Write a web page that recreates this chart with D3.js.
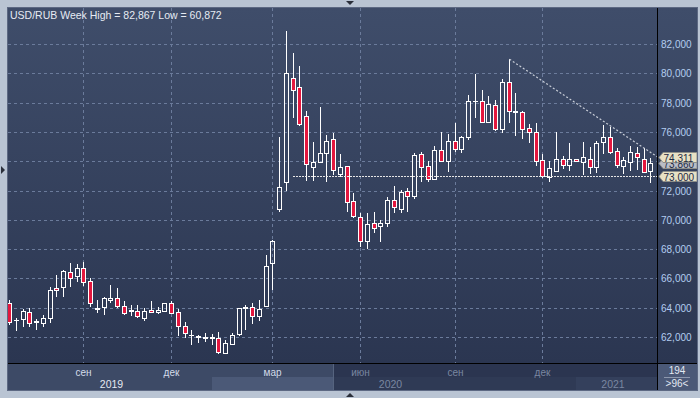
<html>
<head>
<script src="https://cdn.jsdelivr.net/npm/d3@7"></script>
<style>
  body { margin: 0; background: #b9c4d3; }
  svg text { font-family: "Liberation Sans", Arial, sans-serif; }
</style>
</head>
<body>
<svg id="chart" width="700" height="398"></svg>
<script>
// weekly USD/RUB candles, thousands-style values (72,000 == 72.0)
var open  = [64.34,63.14,63.21,63.69,63.00,62.94,63.32,65.32,65.39,66.42,66.19,66.69,65.82,63.94,64.03,64.53,
             64.64,64.14,63.78,63.77,63.32,63.84,63.69,63.77,64.30,63.69,62.77,62.12,62.00,61.96,61.96,61.95,
             60.94,61.50,62.18,64.01,64.07,63.45,64.14,67.03,70.72,72.60,79.66,79.04,77.06,73.58,73.92,74.54,
             75.49,73.15,73.65,71.26,70.17,68.57,69.76,69.60,69.76,71.35,70.72,71.97,71.65,74.49,73.67,72.78,
             74.76,74.03,75.38,74.85,75.63,78.09,78.13,76.70,77.82,76.18,79.39,77.36,77.36,76.25,75.99,74.06,
             72.92,73.31,74.13,73.72,74.15,73.97,74.13,73.62,75.33,75.67,74.70,73.67,73.97,74.54,74.17,73.33];
var high  = [64.55,63.28,63.89,63.96,63.21,63.48,65.39,66.23,66.60,67.03,66.98,67.14,66.01,64.53,64.70,65.55,
             65.32,64.46,64.18,64.18,63.96,64.46,64.03,64.34,64.46,63.91,63.04,62.48,62.14,62.25,62.20,62.36,
             61.80,62.29,64.00,64.18,64.30,64.53,67.60,68.60,75.67,82.867,81.41,80.50,77.43,75.33,77.70,75.79,
             75.90,74.49,73.70,71.85,70.44,70.44,70.51,69.99,71.58,72.31,72.03,72.15,74.54,74.65,74.01,75.04,
             76.01,75.88,76.61,75.72,78.52,79.95,78.86,78.45,78.18,79.61,80.96,78.63,77.45,76.54,76.63,74.49,
             74.01,76.01,74.35,75.22,74.18,75.29,74.99,75.40,76.47,76.35,74.88,74.31,75.04,74.99,74.88,74.20];
var low   = [62.85,62.43,62.70,62.70,62.48,62.70,62.98,64.75,64.71,65.39,65.78,65.50,64.07,63.62,63.50,64.34,
             63.96,63.50,63.45,63.32,63.11,63.62,63.55,63.69,63.55,62.09,61.95,61.45,61.57,61.68,61.45,60.872,
             60.88,61.45,62.07,62.48,62.87,63.11,64.10,65.21,70.55,71.99,76.97,76.42,72.67,72.67,73.85,72.60,
             73.06,72.94,70.55,70.14,68.16,67.99,69.12,68.51,69.53,70.44,70.44,70.51,71.40,72.60,72.60,72.72,
             73.95,73.28,74.65,74.54,75.42,76.97,76.63,76.65,76.08,75.95,76.63,75.74,75.49,75.26,73.67,72.83,
             72.60,73.28,73.47,73.35,73.98,73.06,73.13,73.17,74.49,74.50,73.52,73.13,73.35,73.40,73.21,72.49];
var close = [63.04,63.18,63.77,62.94,63.09,63.28,65.19,65.19,66.51,66.01,66.69,65.73,64.30,63.98,64.64,64.64,
             64.14,63.62,63.82,63.45,63.77,63.69,63.84,64.30,63.62,62.77,62.25,62.16,62.04,62.00,62.00,61.00,
             61.57,62.14,63.96,64.05,63.45,63.89,66.85,68.55,72.22,80.00,78.84,76.56,73.79,73.92,74.54,75.36,
             73.42,73.58,71.24,70.28,68.57,69.71,69.42,69.76,71.35,70.85,71.88,71.65,74.42,73.62,72.78,74.76,
             74.03,75.38,74.85,75.63,78.11,78.13,76.70,77.88,76.18,79.43,77.41,77.40,76.18,75.99,74.01,73.01,
             73.52,74.13,73.72,74.13,74.01,74.27,73.58,75.22,75.63,74.65,73.74,74.06,74.65,74.27,73.28,73.86];

var yTicks = [62, 64, 66, 68, 70, 72, 74, 76, 78, 80, 82];
var monthTicks = [{i: 11, label: "сен"}, {i: 24, label: "дек"}, {i: 39, label: "мар"},
                  {i: 52, label: "июн"}, {i: 66, label: "сен"}, {i: 79, label: "дек"}];
var years = [{label: "2019", from: 0, to: 30}, {label: "2020", from: 30, to: 84}, {label: "2021", from: 84, to: 96}];

var levelValue = 73.0, levelFrom = 42;          // horizontal support line
var trendFrom = 74, trendTo = 74.311;           // trendline from candle high to right-edge value
var title = "USD/RUB Week High = 82,867 Low = 60,872";

var L = 8, T = 8, R = 657, B = 363, AB = 390, PR = 697;
var fmt = function(v) { return d3.format(".3f")(v).replace(".", ","); };

var svg = d3.select("#chart");
var defs = svg.append("defs");
var grad = defs.append("linearGradient").attr("id", "bg").attr("x1", 0).attr("y1", 0).attr("x2", 0).attr("y2", 1);
grad.append("stop").attr("offset", "0%").attr("stop-color", "#3f4d6a");
grad.append("stop").attr("offset", "100%").attr("stop-color", "#2b3651");
defs.append("clipPath").attr("id", "clip").append("rect")
    .attr("x", L).attr("y", T).attr("width", R - L).attr("height", B - T);

svg.append("rect").attr("width", 700).attr("height", 398).attr("fill", "#b9c4d3");
svg.append("rect").attr("x", L).attr("y", T).attr("width", PR - L).attr("height", B - T).attr("fill", "url(#bg)");

var idx = d3.range(open.length);
var x = d3.scaleBand().domain(idx).range([5.7, 653.7]);
var cx = function(i) { return Math.round(x(i) + x.bandwidth() / 2); };
var y = d3.scaleLinear().domain([62, 82]).range([337, 44]);

// grid
var grid = svg.append("g").attr("stroke", "#6b7b9b").attr("stroke-dasharray", "3,3");
grid.selectAll("line.h").data(yTicks).join("line").attr("class", "h")
    .attr("x1", L).attr("x2", R)
    .attr("y1", function(d) { return Math.round(y(d)) + 0.5; })
    .attr("y2", function(d) { return Math.round(y(d)) + 0.5; });
grid.selectAll("line.v").data(monthTicks).join("line").attr("class", "v")
    .attr("y1", T).attr("y2", B)
    .attr("x1", function(d) { return cx(d.i) + 0.5; })
    .attr("x2", function(d) { return cx(d.i) + 0.5; });

// candles
var plot = svg.append("g").attr("clip-path", "url(#clip)");
var c = plot.selectAll("g.candle").data(idx).join("g").attr("class", "candle");
c.each(function(i) {
    var g = d3.select(this);
    var px = cx(i) + 0.5;
    var yt = Math.round(y(Math.max(open[i], close[i])));
    var yb = Math.round(y(Math.min(open[i], close[i])));
    var yh = Math.round(y(high[i])), yl = Math.round(y(low[i]));
    var down = close[i] < open[i];
    g.append("line").attr("x1", px).attr("x2", px).attr("y1", yh).attr("y2", yt)
        .attr("stroke", "#fff");
    g.append("line").attr("x1", px).attr("x2", px).attr("y1", yb + 1).attr("y2", yl)
        .attr("stroke", "#fff");
    if (yb - yt < 1) {
        g.append("line").attr("x1", px - 2.5).attr("x2", px + 2.5)
            .attr("y1", yt + 0.5).attr("y2", yt + 0.5).attr("stroke", "#fff");
    } else {
        g.append("rect").attr("x", px - 2).attr("y", yt + 0.5)
            .attr("width", 4).attr("height", yb - yt)
            .attr("fill", down ? "#e3173e" : "none").attr("stroke", "#fff");
    }
});

// level line and trendline
svg.append("line")
    .attr("x1", cx(levelFrom)).attr("x2", R)
    .attr("y1", Math.round(y(levelValue)) + 0.5).attr("y2", Math.round(y(levelValue)) + 0.5)
    .attr("stroke", "#e6e6e6").attr("stroke-dasharray", "2,1");
svg.append("line")
    .attr("x1", cx(trendFrom) + 0.5).attr("y1", y(high[trendFrom]))
    .attr("x2", R).attr("y2", y(trendTo))
    .attr("stroke", "#c9ced8").attr("stroke-width", 1.2).attr("stroke-dasharray", "2,2");

// bottom axis panel
var ax = svg.append("g");
ax.append("rect").attr("x", L).attr("y", B).attr("width", 333 - L).attr("height", AB - B).attr("fill", "#3d4a66");
ax.append("rect").attr("x", 333).attr("y", B).attr("width", R - 333).attr("height", AB - B).attr("fill", "#2b3550");
ax.append("rect").attr("x", cx(years[1].from)).attr("y", 377).attr("width", 333 - cx(years[1].from)).attr("height", AB - 377).attr("fill", "#4b5977");
ax.append("rect").attr("x", 333).attr("y", 377).attr("width", cx(years[2].from) - 333).attr("height", AB - 377).attr("fill", "#2f3a55");
ax.append("rect").attr("x", cx(years[2].from)).attr("y", 377).attr("width", R - cx(years[2].from)).attr("height", AB - 377).attr("fill", "#34405c");
ax.append("line").attr("x1", 333.5).attr("x2", 333.5).attr("y1", B).attr("y2", AB).attr("stroke", "#56647f");

ax.selectAll("text.m").data(monthTicks).join("text").attr("class", "m")
    .attr("x", function(d) { return cx(d.i) + 0.5; }).attr("y", 372)
    .attr("text-anchor", "middle").attr("dominant-baseline", "central")
    .attr("font-size", 10)
    .attr("fill", function(d) { return cx(d.i) < 333 ? "#d4dcea" : "#7a87a1"; })
    .text(function(d) { return d.label; });
ax.selectAll("text.y").data(years).join("text").attr("class", "y")
    .attr("x", function(d) {
        var a = Math.max(L + 10, cx(d.from)), b = Math.min(R, cx(d.to - 1));
        return (a + b) / 2;
    })
    .attr("y", 383.5)
    .attr("text-anchor", "middle").attr("dominant-baseline", "central")
    .attr("font-size", 10.5)
    .attr("fill", function(d, k) { return k === 0 ? "#e4e9f2" : "#7a87a1"; })
    .text(function(d) { return d.label; });

// right value axis
svg.selectAll("text.yt").data(yTicks).join("text").attr("class", "yt")
    .attr("x", 661).attr("y", function(d) { return y(d) + 0.5; })
    .attr("dominant-baseline", "central").attr("font-size", 10)
    .attr("fill", "#b3cdf0")
    .text(function(d) { return fmt(d); });

// price tags
var tags = [
    {v: close[close.length - 1], fill: "#b9bdc6"},
    {v: trendTo, fill: "#e8e1c5"},
    {v: levelValue, fill: "#e8e1c5"}
];
var tg = svg.selectAll("g.tag").data(tags).join("g").attr("class", "tag")
    .attr("transform", function(d) { return "translate(0," + (Math.round(y(d.v)) + 0.5) + ")"; });
tg.append("path").attr("d", "M659,0 L663,-5 L697,-5 L697,5 L663,5 Z")
    .attr("fill", function(d) { return d.fill; }).attr("stroke", "#8e8f8a");
tg.append("text").attr("x", 663.5).attr("y", 0.5).attr("dominant-baseline", "central")
    .attr("font-size", 10).attr("fill", "#1d2842")
    .text(function(d) { return fmt(d.v); });

// frame lines
svg.append("line").attr("x1", R + 0.5).attr("x2", R + 0.5).attr("y1", T).attr("y2", AB).attr("stroke", "#000");
svg.append("line").attr("x1", L).attr("x2", PR).attr("y1", B + 0.5).attr("y2", B + 0.5).attr("stroke", "#000");
svg.append("rect").attr("x", L - 0.5).attr("y", T - 0.5).attr("width", PR - L + 1).attr("height", AB - T + 1)
    .attr("fill", "none").attr("stroke", "#5d6983");

// bar count box
svg.append("rect").attr("x", R + 1).attr("y", B + 1).attr("width", PR - R - 1).attr("height", AB - B - 1).attr("fill", "#4b5977");
svg.append("text").attr("x", 677).attr("y", 370.5).attr("text-anchor", "middle").attr("dominant-baseline", "central")
    .attr("font-size", 10).attr("fill", "#e2e8f2").text(open.length + 98);
svg.append("line").attr("x1", 664).attr("x2", 690).attr("y1", 377.5).attr("y2", 377.5).attr("stroke", "#8d98ae");
svg.append("text").attr("x", 677).attr("y", 383.5).attr("text-anchor", "middle").attr("dominant-baseline", "central")
    .attr("font-size", 10).attr("fill", "#e2e8f2").text(">" + open.length + "<");

// title
svg.append("text").attr("x", 10).attr("y", 15).attr("dominant-baseline", "central")
    .attr("font-size", 10.5).attr("fill", "#e6ebf3").text(title);

// scroll arrows
var arrows = ["M346,1 L354,1 L350,5 Z", "M346,397 L354,397 L350,393 Z", "M1,166 L1,174 L5,170 Z"];
svg.selectAll("path.arr").data(arrows).join("path").attr("class", "arr")
    .attr("d", function(d) { return d; }).attr("fill", "#2a2f3a");
</script>
</body>
</html>
